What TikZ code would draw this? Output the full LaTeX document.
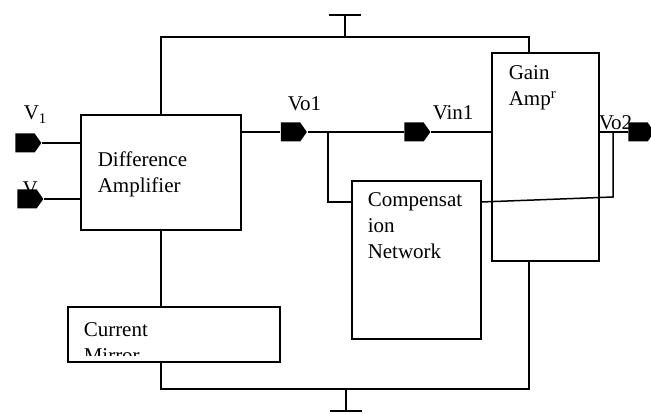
\documentclass[tikz,border=0pt]{standalone}
\usepackage{fontspec}
\setmainfont{Liberation Serif}
\usetikzlibrary{positioning, shapes.symbols}

\begin{document}
\begin{tikzpicture}[x=1pt, y=-1pt, line width=1.5pt,
  every node/.style={font=\fontsize{21}{26}\selectfont},
  block/.style={draw, inner sep=0pt},
  txt/.style={anchor=base west, align=left, inner sep=0pt},
  port/.style={signal, signal to=east, signal pointer angle=110, fill=black, draw=none,
    minimum width=26, minimum height=19, inner sep=0pt}]
\useasboundingbox (0,0) rectangle (651,414);
% blocks
\node (da) [block, minimum width=160, minimum height=115] at (161,172.5) {};
\node (ga) [block, minimum width=107, minimum height=208] at (545.5,157) {};
\node (cn) [block, minimum width=129, minimum height=158] at (416.5,260) {};
\node (cm) [block, minimum width=212, minimum height=55] at (174,334.5) {};
\node (daTxt) [txt] at (97,193) {Difference\\Amplifier};
\node (gaTxt) [txt] at (508,106) {Gain\\Amp\textsuperscript{r}};
\node (cnTxt) [txt] at (367,259) {Compensat\\ion\\Network};
\begin{scope}
  \clip (cm.north west) rectangle ([yshift=7]cm.south east);
  \node (cmTxt) [txt] at (83,362) {Current\\Mirror};
\end{scope}
% supply and ground
\coordinate (vdd) at (345,37);
\coordinate (vddTop) at (345,15);
\coordinate (gaTop) at (529,53);
\coordinate (gnd) at (346,389);
\coordinate (gndBot) at (346,411);
\coordinate (gaBot) at (529,261);
\draw (da.north) |- (vdd) -| (gaTop);
\draw (vdd) -- (vddTop);
\draw ([xshift=-16]vddTop) -- ([xshift=16]vddTop);
\draw (da.south) -- (da.south |- cm.north);
\draw (da.south |- cm.south) |- (gnd) -| (gaBot);
\draw (gnd) -- (gndBot);
\draw ([xshift=-16]gndBot) -- ([xshift=16]gndBot);
% labels
\node (v1Lbl) [txt] at (23,120) {V\textsubscript{1}};
\node (v2Lbl) [txt] at (22,196) {V};
\node (vo1Lbl) [txt] at (287,111) {Vo1};
\node (vin1Lbl) [txt] at (432,120) {Vin1};
\node (vo2Lbl) [txt] at (598,130) {Vo2};
% ports
\node (p1) [port] at (25,143) {};
\node (p2) [port] at (27,199) {};
\node (vo1) [port] at (290.5,132) {};
\node (vin1) [port] at (414,132) {};
\node (vo2) [port] at (638,132) {};
% signal paths
\coordinate (j) at (328,132);
\coordinate (fb) at (613,132);
\coordinate (fbDown) at (613,197);
\coordinate (cnOut) at (481,202);
\draw (p1.east) -- (p1.east -| da.west);
\draw (p2.east) -- (p2.east -| da.west);
\draw (da.east |- j) -- (vo1) -- (vin1) -- (vin1 -| ga.west);
\draw (j) |- (cnOut -| cn.west);
\draw (ga.east |- vo2) -- (vo2);
\draw (fb) -- (fbDown) -- (cnOut);
\end{tikzpicture}
\end{document}
